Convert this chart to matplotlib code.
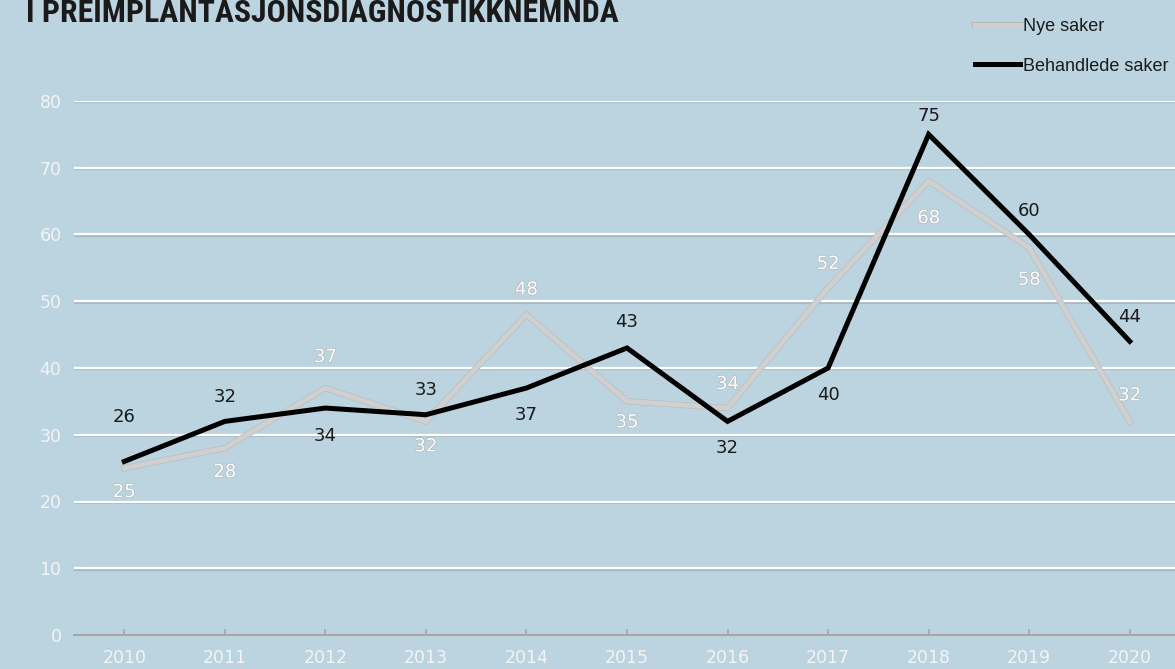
import matplotlib
matplotlib.use("Agg")
import matplotlib.pyplot as plt
import matplotlib.patheffects as pe
from matplotlib import font_manager as fm

years = ["2010", "2011", "2012", "2013", "2014", "2015", "2016", "2017", "2018", "2019", "2020"]
nye_saker = [25, 28, 37, 32, 48, 35, 34, 52, 68, 58, 32]
behandlede_saker = [26, 32, 34, 33, 37, 43, 32, 40, 75, 60, 44]
y_ticks = [0, 10, 20, 30, 40, 50, 60, 70, 80]
title = "I PREIMPLANTASJONSDIAGNOSTIKKNEMNDA"

# label offsets (pixels, + = above)
nye_off = [-24, -24, 31, -25, 25, -21, 24, 24, -37, -32, 26]
beh_off = [44, 24, -28, 25, -27, 26, -27, -27, 18, 23, 24]


def has_font(name):
    try:
        fm.findfont(fm.FontProperties(family=name), fallback_to_default=False)
        return True
    except Exception:
        return False


title_family = "DejaVu Sans"
for cand in ["Roboto Condensed", "Liberation Sans Narrow", "Open Sans Condensed",
             "Noto Sans Condensed", "Roboto"]:
    if has_font(cand):
        title_family = cand
        break
legend_family = "Liberation Sans" if has_font("Liberation Sans") else "DejaVu Sans"

BG = "#bbd4df"
W, H = 1175, 669
fig = plt.figure(figsize=(W / 100, H / 100), dpi=100, facecolor=BG)
ax = fig.add_axes([74 / W, (H - 635) / H, (1180 - 74) / W, (635 - 101) / H], facecolor=BG)

x = list(range(len(years)))
ax.set_xlim(-0.5, len(years) - 0.5)
ax.set_ylim(0, 80)
ax.set_yticks(y_ticks)
ax.set_xticks(x)
ax.set_xticklabels(years)

for yv in y_ticks[1:]:
    ax.axhline(yv, color="white", lw=1.6, zorder=1,
               path_effects=[pe.SimpleLineShadow(offset=(0, -1), shadow_color="#9aaab2", alpha=0.6), pe.Normal()])

for s in ["top", "right", "left"]:
    ax.spines[s].set_visible(False)
ax.spines["bottom"].set_color("#a6a6a6")
ax.spines["bottom"].set_linewidth(1.5)

ax.tick_params(axis="y", length=0, pad=9, labelsize=12.5, labelcolor="#f4f4f4")
ax.tick_params(axis="x", direction="in", length=4, width=1.2, color="#a6a6a6",
               pad=10, labelsize=12.5, labelcolor="#f4f4f4")

ln1, = ax.plot(x, nye_saker, color="#d0d0d0", lw=3.6, zorder=3, label="Nye saker",
               solid_joinstyle="miter",
               path_effects=[pe.Stroke(linewidth=4.4, foreground="#b8b8b8"), pe.Normal()])
ln2, = ax.plot(x, behandlede_saker, color="black", lw=3.6, zorder=4, label="Behandlede saker",
               solid_joinstyle="miter")

for i, v in enumerate(nye_saker):
    ax.annotate(str(v), (i, v), xytext=(0, nye_off[i] * 0.72), textcoords="offset points",
                ha="center", va="center", fontsize=13, color="white", zorder=5,
                path_effects=[pe.withStroke(linewidth=0.8, foreground="#b0b0b0")])
for i, v in enumerate(behandlede_saker):
    ax.annotate(str(v), (i, v), xytext=(0, beh_off[i] * 0.72), textcoords="offset points",
                ha="center", va="center", fontsize=13, color="#1a1a1a", zorder=5)

leg = fig.legend(handles=[ln1, ln2], loc="upper left", bbox_to_anchor=(975 / W, 1 - 18 / H),
                 frameon=False, prop={"family": legend_family, "size": 13},
                 handlelength=2.5, handletextpad=0.15,
                 labelspacing=1.25, borderpad=0, borderaxespad=0)
for t in leg.get_texts():
    t.set_color("#1a1a1a")

# title: fit to reference width (x 26 -> 618 px)
tt = fig.text(26 / W, 1 - 22 / H, title, ha="left", va="baseline",
              fontsize=24, fontweight="bold", family=title_family, color="#1a1a1a")
fig.canvas.draw()
bb = tt.get_window_extent()
tt.set_fontsize(24 * (618 - 26) / bb.width)

fig.savefig("out.png", dpi=100, facecolor=BG)
